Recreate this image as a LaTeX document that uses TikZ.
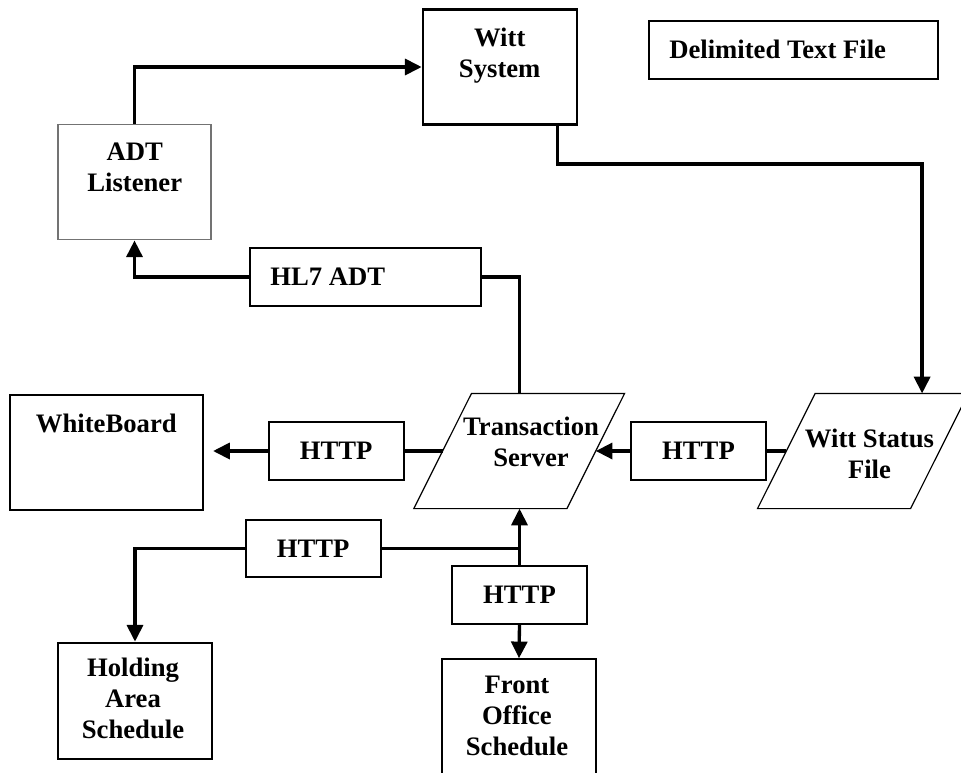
\documentclass[tikz,border=0pt]{standalone}
\usepackage{fontspec}
\setmainfont{Liberation Serif}
\usetikzlibrary{arrows.meta,calc}

\begin{document}
\begin{tikzpicture}[x=0.75pt,y=-0.75pt,
  font=\fontsize{20}{23.25}\selectfont\bfseries,
  box/.style={draw, line width=1.6pt, rectangle, inner sep=0pt},
  graybox/.style={draw=black!55, line width=1.1pt, rectangle, inner sep=0pt},
  http/.style={box, minimum width=101.25pt, minimum height=43pt},
  paraframe/.style={rectangle, inner sep=0pt, minimum width=157.7pt, minimum height=86pt},
  paraline/.style={line width=0.9pt, line join=miter},
  txt/.style={anchor=base, align=center, inner sep=0pt},
  conn/.style={line width=2.5pt},
  arr/.style={conn, -{Triangle[length=12.5pt,width=12pt]}}]

\useasboundingbox (0,0) rectangle (961,772);
\clip (0,0) rectangle (961,772);
\fill[white] (0,0) rectangle (961,772);

% systems and data stores (multi-line labels are placed by their last baseline)
\node[box, minimum width=115.5pt, minimum height=86.25pt] (witt) at (499.7,67) {};
\node[txt] (wittT) at (499.7,77) {Witt\\System};

\node[box, minimum width=216.5pt, minimum height=43.3pt] (dtf) at (793.3,49.9) {};
\node[txt, anchor=base west] (dtfT) at (669,58.3) {Delimited Text File};

\node[graybox, minimum width=114.75pt, minimum height=86.25pt] (adt) at (134.5,182.2) {};
\node[txt] (adtT) at (134.7,191.5) {ADT\\Listener};

\node[box, minimum width=173.25pt, minimum height=43.5pt] (hl7) at (365.2,277) {};
\node[txt, anchor=base west] (hl7T) at (270,285) {HL7 ADT};

% slanted data shapes: frame node plus its parallelogram outline
\node[paraframe] (trans) at (519.2,451) {};
\draw[paraline] (trans.south west) -- ($(trans.north west)+(57.7,0)$)
  -- (trans.north east) -- ($(trans.south east)-(57.7,0)$) -- cycle;
\node[txt] (transT) at (531,466) {Transaction\\Server};

\node[paraframe] (wsf) at (862.9,451) {};
\draw[paraline] (wsf.south west) -- ($(wsf.north west)+(57.7,0)$)
  -- (wsf.north east) -- ($(wsf.south east)-(57.7,0)$) -- cycle;
\node[txt] (wsfT) at (869.5,478.3) {Witt Status\\File};

\node[box, minimum width=144.3pt, minimum height=86.25pt] (wb) at (106.5,452.5) {};
\node[txt] (wbT) at (106.3,432.7) {WhiteBoard};

\node[http] (httpL) at (336.2,451) {HTTP};
\node[http] (httpR) at (698.5,451) {HTTP};
\node[http] (httpH) at (313.2,548.7) {HTTP};
\node[http] (httpF) at (519.5,595) {HTTP};

\node[box, minimum width=115.5pt, minimum height=87pt] (hold) at (135,700.7) {};
\node[txt] (holdT) at (133,738.3) {Holding\\Area\\Schedule};

\node[box, minimum width=115.5pt, minimum height=87pt] (front) at (519,717.3) {};
\node[txt] (frontT) at (517,755) {Front\\Office\\Schedule};

% connector end points on the slanted shapes
\coordinate (transL) at ($(trans.west)+(28.85,0)$);
\coordinate (transR) at ($(trans.east)-(28.85,0)$);
\coordinate (wsfL) at ($(wsf.west)+(28.85,0)$);
\coordinate (wsfin) at ($(wsf.north)+(59.2,0)$);

% connectors
\draw[arr] (adt.north) |- (witt.west);
\draw[arr] ([xshift=43.5pt]witt.south) -- ++(0,38.5) -| (wsfin);
\draw[arr] (hl7.west) -| (adt.south);
\draw[conn] (trans.north) |- (hl7.east);
\draw[conn] (transL) -- (httpL.east);
\draw[arr, shorten >=7pt] (httpL.west) -- (httpL.west -| wb.east);
\draw[conn] (wsfL) -- (httpR.east);
\draw[arr] (httpR.west) -- (transR);
\draw[arr] (httpH.west) -| (hold.north);
\draw[conn] (httpH.east) -- (httpH.east -| trans.south);
\draw[arr] (httpF.north) -- (httpF.north |- trans.south);
\draw[arr] (httpF.south) -- (front.north);
\end{tikzpicture}
\end{document}
